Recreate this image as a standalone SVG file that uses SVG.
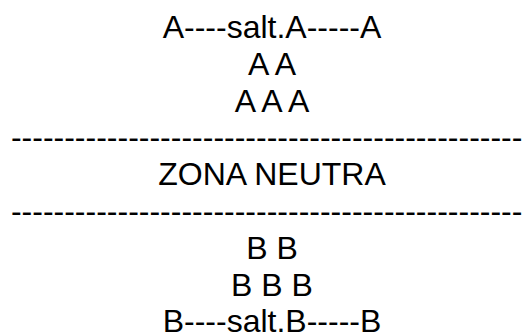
<svg xmlns="http://www.w3.org/2000/svg" width="523" height="334" viewBox="0 0 523 334">
<style>
text{font-family:"Liberation Sans",Arial,sans-serif;font-size:32px;fill:#000;text-anchor:middle}
</style>
<rect width="523" height="334" fill="#fff"/>
<g id="zoneA">
<text x="272" y="38">A----salt.A-----A</text>
<text x="272" y="74.8">A A</text>
<text x="272" y="111.6">A A A</text>
</g>
<g id="separator1"><text x="272" y="148.4">-------------------------------------------------</text></g>
<g id="neutral"><text x="272" y="185.2">ZONA NEUTRA</text></g>
<g id="separator2"><text x="272" y="222">-------------------------------------------------</text></g>
<g id="zoneB">
<text x="272" y="258.8">B B</text>
<text x="272" y="295.6">B B B</text>
<text x="272" y="332.4">B----salt.B-----B</text>
</g>
<g id="connectors"/>
</svg>
